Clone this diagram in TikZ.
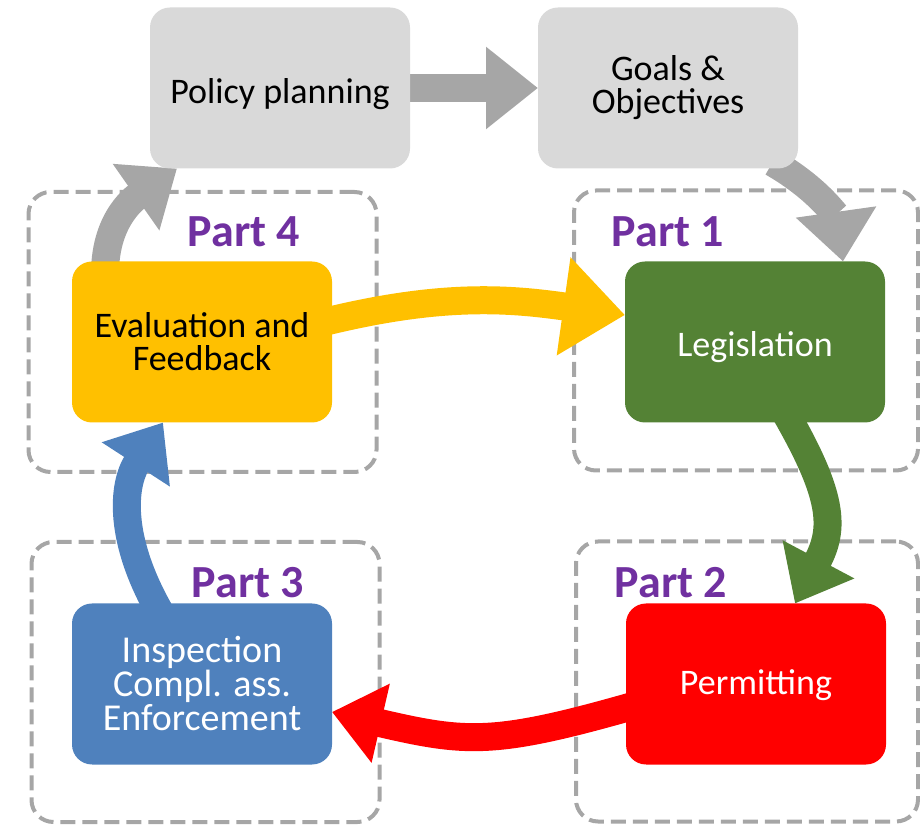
\documentclass[tikz,border=0pt]{standalone}
\usepackage{fontspec}
\setmainfont{Carlito}
\usetikzlibrary{arrows.meta,backgrounds,positioning}
\definecolor{boxgray}{HTML}{D9D9D9}
\definecolor{arrowgray}{HTML}{A6A6A6}
\definecolor{evalyellow}{HTML}{FFC000}
\definecolor{legisgreen}{HTML}{548235}
\definecolor{permred}{HTML}{FF0000}
\definecolor{inspblue}{HTML}{4F81BD}
\definecolor{partpurple}{HTML}{7030A0}

\begin{document}
\begin{tikzpicture}[x=1pt, y=1pt,
        mainbox/.style = {rounded corners=20pt, minimum width=260pt, minimum height=161pt, inner sep=0pt, outer sep=0pt, align=center, font=\fontsize{36}{33}\selectfont},
        partframe/.style = {draw=arrowgray, line width=4pt, dash pattern=on 15pt off 7pt, rounded corners=22pt, minimum width=348pt, minimum height=280pt},
        partlabel/.style = {text=partpurple, anchor=base, inner sep=0pt, font=\fontsize{46}{46}\selectfont\bfseries},
        flow/.style = {line width=28pt, shorten <=-12pt, -{Triangle[length=50pt, width=78pt]}}]
    \useasboundingbox (0,0) rectangle (920,824);

    \node[mainbox, fill=boxgray, text height=36pt, text depth=4pt] (plan) at (280,736) {Policy planning};
    \node[mainbox, fill=boxgray] (goals) [right=128pt of plan] {Goals \&\\Objectives};
    \node[mainbox, fill=evalyellow] (eval) at (202,482) {Evaluation and\\Feedback};
    \node[mainbox, fill=legisgreen, text=white, text height=34pt, text depth=4pt] (legis) [right=293pt of eval] {Legislation};
    \node[mainbox, fill=inspblue, text=white, font=\fontsize{38}{34}\selectfont] (insp) at (202,140) {Inspection\\Compl. ass.\\Enforcement};
    \node[mainbox, fill=permred, text=white, text height=26pt, text depth=4pt] (perm) [right=294pt of insp] {Permitting};

    \node[partlabel] (p4) at (244,577) {Part 4};
    \node[partlabel] (p1) at (668,577) {Part 1};
    \node[partlabel] (p3) at (248,226) {Part 3};
    \node[partlabel] (p2) at (671,226) {Part 2};

    \begin{scope}[on background layer]
        \node[partframe] (f4) at (202.5,492) {};
        \node[partframe, minimum width=344pt] (f1) at (746,493.5) {};
        \node[partframe] (f3) at (205.5,142) {};
        \node[partframe, minimum width=342pt] (f2) at (747,142.5) {};

        \draw[flow, arrowgray, -{Triangle[length=52pt, width=79pt]}] (plan.east) -- (goals.west);
        \draw[flow, arrowgray] ([xshift=33pt]eval.north west) to[out=90, in=215] ([xshift=27pt]plan.south west);
        \draw[flow, arrowgray] ([xshift=-15pt]goals.south east) to[out=-30, in=98] ([xshift=-42pt]legis.north east);
        \draw[flow, evalyellow, -{Triangle[length=62pt, width=95pt]}] ([yshift=22pt]eval.east) to[out=14, in=172] ([yshift=27pt]legis.west);
        \draw[flow, legisgreen] ([xshift=36pt]legis.south) to[out=-60, in=62, looseness=1.2] ([xshift=39pt]perm.north);
        \draw[flow, permred] ([yshift=-24pt]perm.west) to[out=196, in=-13, looseness=1.2] ([yshift=-28pt]insp.east);
        \draw[flow, inspblue] ([xshift=-47pt]insp.north) to[out=120, in=237, looseness=1.05] ([xshift=-39pt]eval.south);
    \end{scope}
\end{tikzpicture}
\end{document}
